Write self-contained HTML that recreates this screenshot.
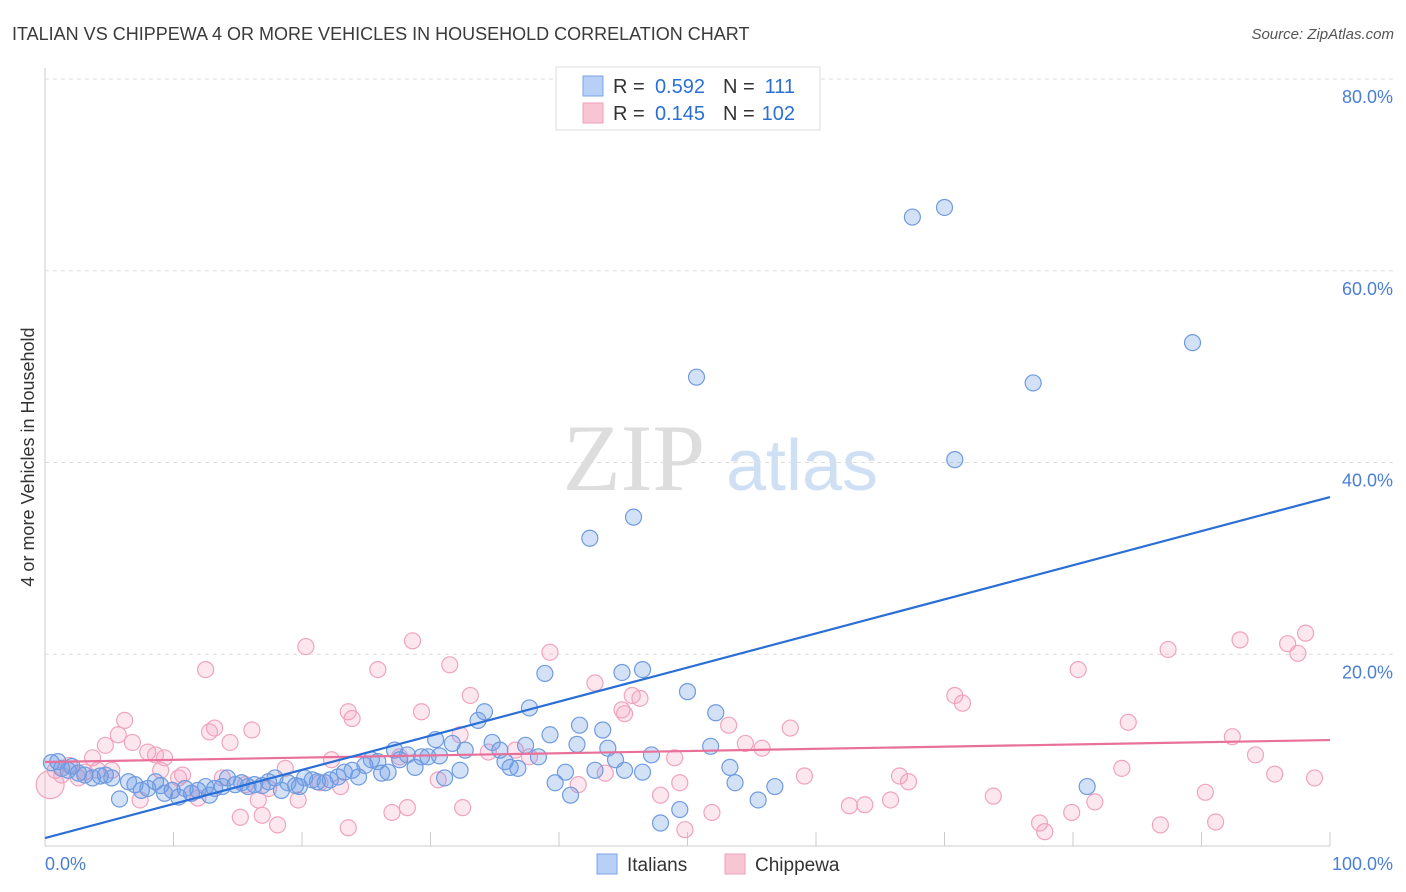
<!DOCTYPE html>
<html><head><meta charset="utf-8"><style>
body{margin:0;background:#fff;font-family:"Liberation Sans",sans-serif;}
svg{display:block}
</style></head><body>
<svg id="chart" width="1406" height="892" xmlns="http://www.w3.org/2000/svg">
<text x="12" y="40" font-size="18" fill="#3a3a3a">ITALIAN VS CHIPPEWA 4 OR MORE VEHICLES IN HOUSEHOLD CORRELATION CHART</text>
<text x="1394" y="39" font-size="15" fill="#555" font-style="italic" text-anchor="end">Source: ZipAtlas.com</text>
<text transform="translate(34,457) rotate(-90)" font-size="18" fill="#333" text-anchor="middle">4 or more Vehicles in Household</text>
<g><text x="634" y="490" font-size="95" fill="#ddd" font-family="Liberation Serif,serif" text-anchor="middle">ZIP</text><text x="802" y="490" font-size="72" fill="#cfe0f5" text-anchor="middle">atlas</text></g>
<g id="grid"></g><g id="axes"></g><g id="pts"></g><g id="lines"></g>
<g>
<rect x="556" y="67" width="264" height="63" fill="#fff" stroke="#ddd"/>
<rect x="583" y="76" width="20" height="20" fill="#b8d0f5" stroke="#7aa5e8"/>
<rect x="583" y="103" width="20" height="20" fill="#f8c5d5" stroke="#ee9fb8"/>
<text x="613" y="93" font-size="20" fill="#333">R =</text>
<text x="705" y="93" font-size="20" fill="#2a6fd6" text-anchor="end">0.592</text>
<text x="723" y="93" font-size="20" fill="#333">N =</text>
<text x="795" y="93" font-size="20" fill="#2a6fd6" text-anchor="end">111</text>
<text x="613" y="120" font-size="20" fill="#333">R =</text>
<text x="705" y="120" font-size="20" fill="#2a6fd6" text-anchor="end">0.145</text>
<text x="723" y="120" font-size="20" fill="#333">N =</text>
<text x="795" y="120" font-size="20" fill="#2a6fd6" text-anchor="end">102</text>
</g>
<g>
<rect x="597" y="854" width="20" height="20" fill="#b8d0f5" stroke="#7aa5e8"/>
<text x="627" y="871" font-size="19" fill="#333">Italians</text>
<rect x="725" y="854" width="20" height="20" fill="#f8c5d5" stroke="#ee9fb8"/>
<text x="755" y="871" font-size="19" fill="#333">Chippewa</text>
</g>
</svg>
<script>
const blueX=[0.5,1.0,1.3,1.8,2.1,2.6,3.1,3.7,4.3,4.7,5.2,5.8,6.5,7.0,7.5,8.0,8.6,9.0,9.3,9.9,10.4,10.9,11.4,11.9,12.5,12.8,13.2,13.8,14.2,14.8,15.3,15.8,16.3,16.9,17.4,17.9,18.4,18.9,19.5,19.8,20.2,20.8,21.2,21.8,22.2,22.8,23.3,23.9,24.4,24.9,25.4,25.9,26.2,26.7,27.2,27.6,28.2,28.8,29.3,29.8,30.4,30.7,31.1,31.7,32.3,32.7,33.7,34.2,34.8,35.4,35.8,36.2,36.8,37.4,37.7,38.4,38.9,39.3,39.7,40.5,40.9,41.4,41.6,42.4,42.8,43.4,43.8,44.4,44.9,45.1,45.8,46.5,46.5,47.2,47.9,49.4,50.0,50.7,51.8,52.2,53.3,53.7,55.5,56.8,67.5,70.0,70.8,76.9,81.1,89.3];
const blueY=[8.7,8.8,8.1,7.9,8.3,7.6,7.4,7.1,7.3,7.4,7.1,4.9,6.7,6.4,5.8,6.0,6.7,6.3,5.5,5.8,5.1,6.0,5.5,5.8,6.2,5.3,6.0,6.2,7.1,6.4,6.6,6.2,6.4,6.3,6.7,7.1,5.8,6.6,6.3,6.2,7.1,6.9,6.7,6.6,6.9,7.2,7.7,7.9,7.2,8.4,9.0,8.8,7.6,7.7,10.0,9.0,9.5,8.2,9.3,9.3,11.1,9.4,7.1,10.7,7.9,10.0,13.1,14.0,10.8,10.0,8.8,8.2,8.1,10.5,14.4,9.3,18.0,11.6,6.6,7.7,5.3,10.6,12.6,32.1,7.9,12.1,10.2,9.0,18.1,7.9,34.3,18.4,7.7,9.5,2.4,3.8,16.1,48.9,10.4,13.9,8.2,6.6,4.8,6.2,65.6,66.6,40.3,48.3,6.2,52.5];
const pinkX=[0.4,0.8,1.3,1.9,2.6,3.1,3.7,4.1,4.7,5.2,5.7,6.2,6.8,7.4,8.0,8.6,9.0,9.3,9.9,10.4,10.7,11.4,11.9,12.5,12.8,13.2,13.8,14.4,15.2,15.6,16.1,16.6,16.9,17.4,18.1,18.7,19.7,20.3,21.4,22.3,23.0,23.6,23.6,23.9,25.9,27.0,27.6,28.2,28.6,29.3,30.6,31.5,32.3,32.5,33.1,34.5,36.6,37.7,39.3,41.5,42.8,43.6,44.9,45.1,45.7,46.3,47.9,49.0,49.4,49.8,51.9,53.2,54.5,55.8,58.0,59.1,62.6,63.8,65.8,66.5,67.2,70.8,71.4,73.8,77.4,77.8,79.9,80.4,81.7,83.8,84.3,87.4,86.8,90.3,91.1,92.4,93.0,94.2,95.7,96.7,97.5,98.1,98.8];
const pinkY=[6.4,7.9,7.4,8.4,7.1,7.7,9.2,7.9,10.5,7.9,11.6,13.1,10.8,4.8,9.8,9.5,7.9,9.2,5.8,7.1,7.4,5.5,5.0,18.4,11.9,12.3,7.1,10.8,3.0,6.4,12.1,4.8,3.2,6.0,2.2,8.1,4.8,20.8,6.6,9.0,6.2,1.9,14.0,13.3,18.4,3.5,9.3,4.0,21.4,14.0,6.9,18.9,11.6,4.0,15.7,9.8,10.0,9.3,20.2,6.4,17.0,7.6,14.2,13.8,15.7,15.4,5.3,9.2,6.6,1.7,3.5,12.6,10.7,10.2,12.3,7.3,4.2,4.3,4.8,7.3,6.7,15.7,14.9,5.2,2.4,1.5,3.5,18.4,4.6,8.1,12.9,20.5,2.2,5.6,2.5,11.4,21.5,9.5,7.5,21.1,20.1,22.2,7.1];
const trendX=[0,100];
const blueTrend=[0.83,36.4];
const pinkTrend=[8.76,11.05];
const yTicks=[20,40,60,80];
const yTickLabels=["20.0%","40.0%","60.0%","80.0%"];
const xTicks=[0,10,20,30,40,50,60,70,80,90,100];

const X0=45,X1=1330,Y0=846,PPY=9.5875;
const sx=v=>X0+(X1-X0)*v/100;
const sy=v=>Y0-v*PPY;
const NS="http://www.w3.org/2000/svg";
function mk(tag,attrs,parent){const e=document.createElementNS(NS,tag);for(const k in attrs)e.setAttribute(k,attrs[k]);parent.appendChild(e);return e;}
const grid=document.getElementById('grid'),axes=document.getElementById('axes'),pts=document.getElementById('pts'),lines=document.getElementById('lines');
yTicks.forEach((t,i)=>{
 const l=mk('line',{x1:X0,x2:1395,y1:sy(t),y2:sy(t),stroke:'#ddd','stroke-dasharray':'4,4'},grid);
 
 
 const tx=mk('text',{x:1393,y:sy(t)+24,'font-size':18,fill:'#4a7fd6','text-anchor':'end'},grid);
 tx.textContent=yTickLabels[i];
 
 
});
let a=mk('line',{x1:X0,x2:X0,y1:68,y2:Y0,stroke:'#ccc'},axes);


a=mk('line',{x1:X0,x2:X1,y1:Y0,y2:Y0,stroke:'#ccc'},axes);


xTicks.forEach(t=>{
 const l=mk('line',{x1:sx(t),x2:sx(t),y1:Y0-14,y2:Y0,stroke:'#ccc'},axes);
 
 
});
let t=mk('text',{x:45,y:870,'font-size':18,fill:'#4a7fd6'},axes);t.textContent='0.0%';


t=mk('text',{x:1393,y:870,'font-size':18,fill:'#4a7fd6','text-anchor':'end'},axes);t.textContent='100.0%';


pinkX.forEach((x,i)=>{
 const c=mk('circle',{cx:sx(x),cy:sy(pinkY[i]),r:i===0?14:8,fill:'rgba(244,160,190,0.25)',stroke:'#f0a3bd','stroke-width':1.2},pts);
 
 
});
blueX.forEach((x,i)=>{
 const c=mk('circle',{cx:sx(x),cy:sy(blueY[i]),r:8,fill:'rgba(110,155,230,0.3)',stroke:'#6f9be0','stroke-width':1.2},pts);
 
 
});
let ln=mk('line',{x1:sx(trendX[0]),x2:sx(trendX[1]),y1:sy(pinkTrend[0]),y2:sy(pinkTrend[1]),stroke:'#e8709a','stroke-width':2.2},lines);


ln=mk('line',{x1:sx(trendX[0]),x2:sx(trendX[1]),y1:sy(blueTrend[0]),y2:sy(blueTrend[1]),stroke:'#2a6fd6','stroke-width':2.2},lines);


</script>
</body></html>
